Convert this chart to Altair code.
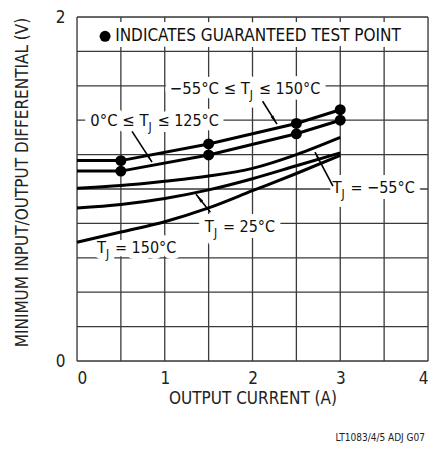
import math
import altair as alt
import pandas as pd

# ---------------- data ----------------
guar_x = [0, 0.5, 1.5, 2.5, 3]
c_full_range = [1.165, 1.165, 1.262, 1.381, 1.461]   # -55°C <= TJ <= 150°C
c_comm_range = [1.104, 1.104, 1.198, 1.321, 1.400]   # 0°C <= TJ <= 125°C
test_x = [0.5, 1.5, 2.5, 3]
smooth_x = [0, 0.5, 1, 1.5, 2, 2.5, 3]
c_m55 = [1.005, 1.02, 1.045, 1.075, 1.12, 1.20, 1.30]   # TJ = -55°C
c_25 = [0.89, 0.91, 0.945, 0.995, 1.06, 1.135, 1.21]     # TJ = 25°C
c_150 = [0.69, 0.75, 0.81, 0.89, 0.99, 1.09, 1.195]     # TJ = 150°C

x_grid = [0, 0.5, 1, 1.5, 2, 2.5, 3, 3.5, 4]
y_grid = [0, 0.2, 0.4, 0.6, 0.8, 1.0, 1.2, 1.4, 1.6, 1.8, 2.0]
x_labels = [0, 1, 2, 3, 4]
y_labels = [0, 1, 2]

# annotation labels (anchor = end of the "T")
lab_x = [1.97, 0.815, 3.014, 1.56, 0.33]
lab_y = [1.58, 1.394, 1.007, 0.78, 0.657]
lab_pre = ["−55°C ≤ T", "0°C ≤ T", "T", "T", "T"]
lab_post = ["≤ 150°C", "≤ 125°C", "= −55°C", "= 25°C", "= 150°C"]

# arrows (start -> tip)
arr_x1 = [2.115, 0.627, 2.917, 1.52]
arr_y1 = [1.51, 1.335, 1.016, 0.865]
arr_x2 = [2.279, 0.855, 2.712, 1.356]
arr_y2 = [1.377, 1.156, 1.214, 0.969]

legend_text = "INDICATES GUARANTEED TEST POINT"
legend_pos = [0.32, 1.888, 0.435]
footer = "LT1083/4/5 ADJ G07"

FONT = "Liberation Sans Narrow, DejaVu Sans Condensed, Roboto, sans-serif"
W, H = 351, 344

# ---------------- tables ----------------
rows = []
for name, ys in [("a", c_full_range), ("b", c_comm_range)]:
    for x, y in zip(guar_x, ys):
        rows.append({"curve": name, "x": x, "y": y})
lin_df = pd.DataFrame(rows)

rows = []
for name, ys in [("c", c_m55), ("d", c_25), ("e", c_150)]:
    for x, y in zip(smooth_x, ys):
        rows.append({"curve": name, "x": x, "y": y})
smooth_df = pd.DataFrame(rows)

dots = []
for ys in (c_full_range, c_comm_range):
    for x, y in zip(guar_x, ys):
        if x in test_x:
            dots.append({"x": x, "y": y})
dots_df = pd.DataFrame(dots)

lab_df = pd.DataFrame({"x": lab_x, "y": lab_y, "pre": lab_pre, "post": lab_post, "sub": ["J"] * 5})

angles = []
for x1, y1, x2, y2 in zip(arr_x1, arr_y1, arr_x2, arr_y2):
    pdx = (x2 - x1) * W / 4
    pdy = -(y2 - y1) * H / 2
    angles.append(math.degrees(math.atan2(pdx, -pdy)) % 360)
arr_df = pd.DataFrame({"x": arr_x1, "y": arr_y1, "x2": arr_x2, "y2": arr_y2, "ang": angles})

leg_df = pd.DataFrame({"x": [legend_pos[0]], "y": [legend_pos[1]], "tx": [legend_pos[2]], "t": [legend_text]})
xg_df = pd.DataFrame({"x": x_grid})
yg_df = pd.DataFrame({"y": y_grid})

xs = alt.Scale(domain=[0, 4], nice=False)
ys = alt.Scale(domain=[0, 2], nice=False)

X = alt.X("x:Q", scale=xs, axis=alt.Axis(
    values=x_labels, title="OUTPUT CURRENT (A)", format="d",
    grid=False, domain=False, ticks=False, labelOverlap=False,
    labelPadding=9, labelFontSize=17, labelFont=FONT, labelColor="#222",
    titleFont=FONT, titleFontSize=17, titleFontWeight="normal", titleColor="#222",
    titleY=37, titleBaseline="middle"))
Y = alt.Y("y:Q", scale=ys, axis=alt.Axis(
    values=y_labels, title="MINIMUM INPUT/OUTPUT DIFFERENTIAL (V)", format="d",
    grid=False, domain=False, ticks=False, labelOverlap=False,
    labelPadding=12, labelFontSize=17, labelFont=FONT, labelColor="#222",
    titleFont=FONT, titleFontSize=17, titleFontWeight="normal", titleColor="#222",
    titleX=-55, titleY=165, titleAngle=270, titleBaseline="middle", titleAlign="center"))

grid_v = alt.Chart(xg_df).mark_rule(color="#3a3a3a", strokeWidth=1.3).encode(x=X)
grid_h = alt.Chart(yg_df).mark_rule(color="#3a3a3a", strokeWidth=1.3).encode(y=Y)

lines_lin = alt.Chart(lin_df).mark_line(color="black", strokeWidth=3).encode(
    x="x:Q", y="y:Q", detail="curve:N")
lines_smooth = alt.Chart(smooth_df).mark_line(color="black", strokeWidth=3, interpolate="monotone").encode(
    x="x:Q", y="y:Q", detail="curve:N")
pts = alt.Chart(dots_df).mark_circle(color="black", size=120, opacity=1).encode(x="x:Q", y="y:Q")

halo = dict(font=FONT, stroke="white", strokeWidth=12, fill="white", strokeJoin="round")
ink = dict(font=FONT, fill="#111")

def text_layers(df, field, **kw):
    out = []
    for style in (halo, ink):
        out.append(alt.Chart(df).mark_text(**style, **kw).encode(x="x:Q", y="y:Q", text=f"{field}:N"))
    return out

pre_l = text_layers(lab_df, "pre", align="right", baseline="middle", fontSize=16.5)
sub_l = text_layers(lab_df, "sub", align="left", baseline="middle", fontSize=12, dx=0, dy=6)
post_l = text_layers(lab_df, "post", align="left", baseline="middle", fontSize=16, dx=9)

leg_txt = []
for style in (halo, ink):
    leg_txt.append(alt.Chart(leg_df).mark_text(**style, align="left", baseline="middle", fontSize=17).encode(
        x="tx:Q", y="y:Q", text="t:N"))
leg_dot_halo = alt.Chart(leg_df).mark_circle(color="white", size=450, opacity=1).encode(x="x:Q", y="y:Q")
leg_dot = alt.Chart(leg_df).mark_circle(color="black", size=120, opacity=1).encode(x="x:Q", y="y:Q")

shafts = alt.Chart(arr_df).mark_rule(color="black", strokeWidth=1.6).encode(
    x="x:Q", y="y:Q", x2="x2:Q", y2="y2:Q")
heads = alt.Chart(arr_df).mark_point(shape="M0,0L0.32,2L-0.32,2Z", filled=True, color="black",
                                     size=90, opacity=1).encode(
    x="x2:Q", y="y2:Q", angle=alt.Angle("ang:Q", scale=None))

foot = alt.Chart(pd.DataFrame({"t": [footer]})).mark_text(
    font=FONT, fontSize=10, align="right", baseline="middle", fill="#222").encode(
    x=alt.value(348), y=alt.value(421), text="t:N")

chart = alt.layer(
    grid_v, grid_h,
    leg_txt[0], leg_dot_halo, pre_l[0], sub_l[0], post_l[0],
    lines_lin, lines_smooth, shafts, heads, pts,
    leg_txt[1], leg_dot, pre_l[1], sub_l[1], post_l[1], foot,
).properties(
    width=W, height=H,
    autosize=alt.AutoSizeParams(type="none"),
    padding={"left": 69, "top": 9, "right": 6, "bottom": 85},
).configure_view(stroke="black", strokeWidth=2).configure(background="white")

chart.save("out.html", embed_options={"renderer": "svg", "actions": False})
